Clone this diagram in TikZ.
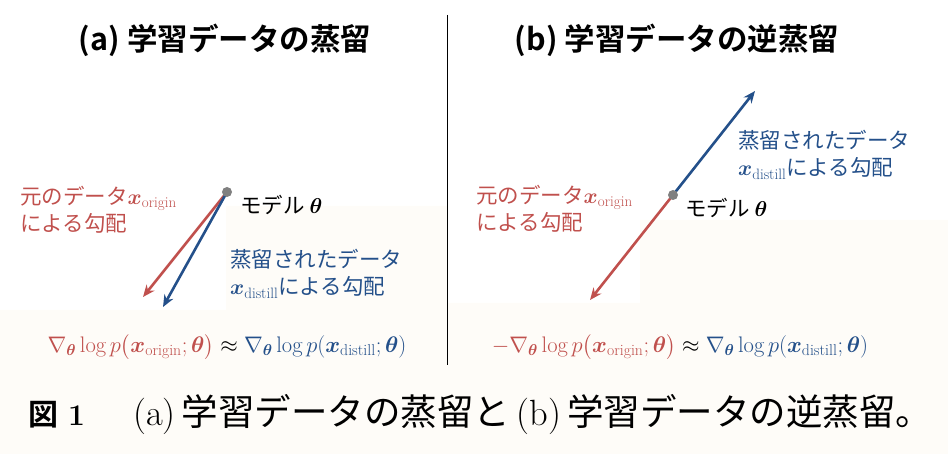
\documentclass[tikz,border=0pt]{standalone}
\usepackage{fix-cm}
\usepackage{fontspec}
\usepackage{amsmath,bm}
\usetikzlibrary{arrows.meta}
\newfontfamily\jpfont{Noto Sans CJK JP}[BoldFont={Noto Sans CJK JP Bold}]
\definecolor{gradred}{RGB}{192,80,77}
\definecolor{gradblue}{RGB}{36,80,138}
\definecolor{paper}{RGB}{254,252,248}

\tikzset{
  ttl/.style={font=\jpfont\bfseries\fontsize{30.5}{32}\selectfont, inner sep=0pt},
  lbl/.style={font=\jpfont\fontsize{21.5}{27}\selectfont, align=left, anchor=west, inner sep=0pt},
  grad/.style={line width=2.6pt, -{Stealth[length=12pt,width=10pt]}},
  dot/.style={circle, fill=gray, minimum size=10pt, inner sep=0pt},
  fml/.style={font=\fontsize{22.5}{26}\selectfont, inner sep=0pt}
}

\begin{document}
\begin{tikzpicture}[x=1pt,y=-1pt]
	\useasboundingbox (0,0) rectangle (948,454);
	% faint paper background
	\fill[paper] (0,310) -- (226,310) -- (226,206) -- (447,206) -- (447,303)
		-- (640,303) -- (640,220) -- (948,220) -- (948,454) -- (0,454) -- cycle;
	\draw[line width=0.8pt] (447,15) -- (447,365);

	% titles
	\node[ttl] (titleA) at (225,40) {(a) 学習データの蒸留};
	\node[ttl] (titleB) at (677,40) {(b) 学習データの逆蒸留};

	% (a) gradients
	\coordinate (modelA) at (227,192);
	\coordinate (tipOrigA) at (143,297);
	\coordinate (tipDistA) at (163,307);
	\draw[grad, gradred] (modelA) -- (tipOrigA);
	\draw[grad, gradblue] (modelA) -- (tipDistA);
	\node[dot] (dotA) at (modelA) {};

	% (b) gradients
	\coordinate (modelB) at (673,195);
	\coordinate (tipOrigB) at (590,300);
	\coordinate (tipDistB) at (755,91);
	\draw[grad, gradred] (modelB) -- (tipOrigB);
	\draw[grad, gradblue] (modelB) -- (tipDistB);
	\node[dot] (dotB) at (modelB) {};

	% node labels
	\node[lbl, gradred] (origA) at (20,210) {元のデータ$\bm{x}_{\mathrm{origin}}$\\による勾配};
	\node[lbl] (thetaA) at (240,205) {モデル $\bm{\theta}$};
	\node[lbl, gradblue] (distA) at (230,274) {蒸留されたデータ\\$\bm{x}_{\mathrm{distill}}$による勾配};

	\node[lbl, gradred] (origB) at (476,209) {元のデータ$\bm{x}_{\mathrm{origin}}$\\による勾配};
	\node[lbl] (thetaB) at (685,208) {モデル $\bm{\theta}$};
	\node[lbl, gradblue] (distB) at (738,155) {蒸留されたデータ\\$\bm{x}_{\mathrm{distill}}$による勾配};

	% formulas
	\node[fml] (eqA) at (227,347) {$\color{gradred}\nabla_{\bm{\theta}}\log p\bigl(\bm{x}_{\mathrm{origin}};\bm{\theta}\bigr)
		\color{black}\approx\color{gradblue}\nabla_{\bm{\theta}}\log p(\bm{x}_{\mathrm{distill}};\bm{\theta})$};
	\node[fml] (eqB) at (680,347) {$\color{gradred}-\nabla_{\bm{\theta}}\log p\bigl(\bm{x}_{\mathrm{origin}};\bm{\theta}\bigr)
		\color{black}\approx\color{gradblue}\nabla_{\bm{\theta}}\log p(\bm{x}_{\mathrm{distill}};\bm{\theta})$};

	% caption
	\node[anchor=west, inner sep=0pt, font=\fontsize{30}{32}\selectfont] (figno) at (28,415)
		{{\jpfont\bfseries 図}\hspace{10pt}\textbf{1}};
	\node[anchor=west, inner sep=0pt, font=\fontsize{36.5}{38}\selectfont] (caption) at (133,415)
		{(a)\,{\jpfont 学習データの蒸留と}\,(b)\,{\jpfont 学習データの逆蒸留。}};
\end{tikzpicture}
\end{document}
